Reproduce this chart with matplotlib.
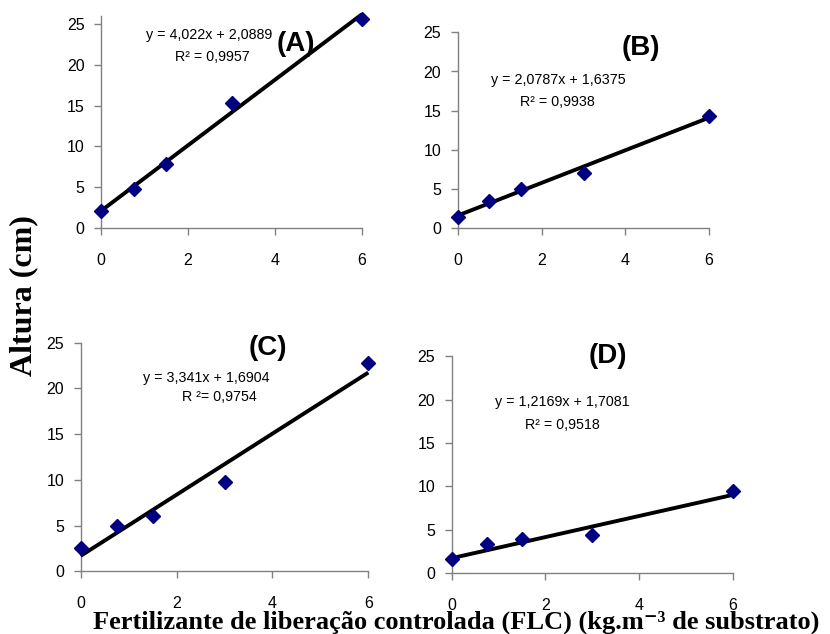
import matplotlib
matplotlib.use("Agg")
import matplotlib.pyplot as plt

# doses de FLC (kg.m-3)
doses = [0, 0.75, 1.5, 3, 6]

# altura media das mudas em cada tratamento
altura_a = [2.1, 4.7, 7.8, 15.3, 25.7]
altura_b = [1.4, 3.5, 5.0, 7.1, 14.3]
altura_c = [2.6, 4.9, 6.0, 9.8, 22.8]
altura_d = [1.6, 3.3, 3.9, 4.4, 9.5]

# coeficientes das retas ajustadas (a, b) e R2
coef_a = [4.022, 2.0889]
coef_b = [2.0787, 1.6375]
coef_c = [3.341, 1.6904]
coef_d = [1.2169, 1.7081]

eq_a = ["y = 4,022x + 2,0889", "R² = 0,9957"]
eq_b = ["y = 2,0787x + 1,6375", "R² = 0,9938"]
eq_c = ["y = 3,341x + 1,6904", "R ²= 0,9754"]
eq_d = ["y = 1,2169x + 1,7081", "R² = 0,9518"]

W, H = 830, 634
fig = plt.figure(figsize=(W / 100, H / 100), dpi=100)
fig.patch.set_facecolor("white")


def caixa(left, right, bottom, top):
    return [left / W, 1 - bottom / H, (right - left) / W, (bottom - top) / H]


def painel(rect, ymax, y, coef, eq, letra, pos_eq, pos_letra):
    ax = fig.add_axes(caixa(*rect))
    ax.set_xlim(0, 6)
    ax.set_ylim(0, ymax)
    ax.set_xticks([0, 2, 4, 6])
    ax.set_yticks([0, 5, 10, 15, 20, 25])
    for s in ["top", "right"]:
        ax.spines[s].set_visible(False)
    for s in ["left", "bottom"]:
        ax.spines[s].set_color("#808080")
        ax.spines[s].set_linewidth(1.0)
    ax.tick_params(axis="both", direction="out", length=5, width=1.0,
                   color="#808080", labelsize=11.5, labelcolor="black")
    ax.tick_params(axis="x", pad=13)
    ax.tick_params(axis="y", pad=7)
    for lb in ax.get_xticklabels() + ax.get_yticklabels():
        lb.set_fontfamily("Liberation Sans")

    a, b = coef
    ax.plot([0, 6], [b, a * 6 + b], color="black", lw=2.8, clip_on=False,
            solid_capstyle="butt", zorder=3)
    ax.plot(doses, y, linestyle="none", marker="D", markersize=7,
            color="#000080", clip_on=False, zorder=4)

    # equacao e R2 em coordenadas de figura
    (x1, y1), (x2, y2) = pos_eq
    fig.text(x1 / W, 1 - y1 / H, eq[0], ha="center", va="center",
             fontsize=10.3, family="Liberation Sans")
    fig.text(x2 / W, 1 - y2 / H, eq[1], ha="center", va="center",
             fontsize=10.3, family="Liberation Sans")
    fig.text(pos_letra[0] / W, 1 - pos_letra[1] / H, letra, ha="center",
             va="center", fontsize=20, fontweight="bold",
             family="Liberation Sans")
    return ax


painel((101.3, 361.7, 227.7, 16.2), 26, altura_a, coef_a, eq_a, "(A)",
       [(209, 35), (212, 57)], (296, 44))
painel((458, 709, 228.3, 32.3), 25, altura_b, coef_b, eq_b, "(B)",
       [(558, 80), (557, 102)], (641, 48))
painel((80.7, 368.3, 571.3, 342.7), 25, altura_c, coef_c, eq_c, "(C)",
       [(206, 378), (219, 397)], (268, 348))
painel((451.7, 732.7, 573, 356.3), 25, altura_d, coef_d, eq_d, "(D)",
       [(562, 402), (562, 425)], (608, 356))

fig.text(24 / W, 1 - 296 / H, "Altura (cm)", rotation=90, ha="center",
         va="center", fontsize=23, fontweight="bold", family="Liberation Serif")
fig.text(456 / W, 1 - 622 / H,
         "Fertilizante de liberação controlada (FLC) (kg.m⁻³ de substrato)",
         ha="center", va="center", fontsize=19, fontweight="bold",
         family=["Liberation Serif", "DejaVu Serif"])

fig.savefig("out.png", dpi=100, facecolor="white")
